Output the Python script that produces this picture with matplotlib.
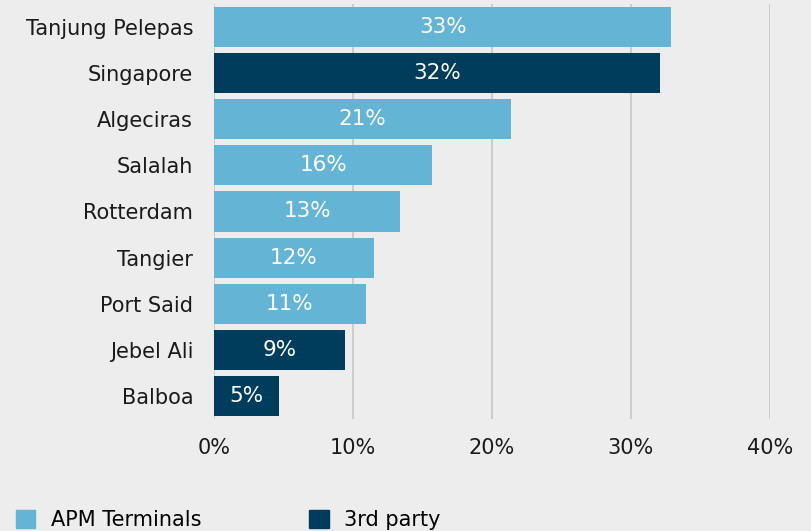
import matplotlib.pyplot as plt
from matplotlib.patches import Patch

ports = ["Tanjung Pelepas", "Singapore", "Algeciras", "Salalah", "Rotterdam",
         "Tangier", "Port Said", "Jebel Ali", "Balboa"]
share = [32.9, 32.1, 21.4, 15.7, 13.4, 11.5, 10.9, 9.4, 4.7]
labels = ["33%", "32%", "21%", "16%", "13%", "12%", "11%", "9%", "5%"]
owner = ["APM", "3rd", "APM", "APM", "APM", "APM", "APM", "3rd", "3rd"]

light = "#64b4d6"
dark = "#003d5c"
bg = "#ededed"

plt.rcParams['font.family'] = ['DejaVu Sans']

fig = plt.figure(figsize=(8.11, 5.31), dpi=100, facecolor=bg)
ax = fig.add_axes([0.2639, 0.2109, 0.6855, 0.7816], facecolor=bg)

colors = [light if o == "APM" else dark for o in owner]
ax.barh(range(len(ports)), share, height=0.87, color=colors, zorder=3)

for i, (v, lab) in enumerate(zip(share, labels)):
    ax.text(v / 2, i, lab, ha="center", va="center", color="white",
            fontsize=15.5, zorder=4)

ax.set_xlim(0, 40)
ax.set_ylim(len(ports) - 0.5, -0.5)
ax.set_xticks([0, 10, 20, 30, 40])
ax.set_xticklabels(["0%", "10%", "20%", "30%", "40%"])
ax.set_yticks(range(len(ports)))
ax.set_yticklabels(ports)
ax.tick_params(axis="both", length=0, labelsize=15, colors="#1a1a1a")
ax.tick_params(axis="x", pad=14)
ax.tick_params(axis="y", pad=15)
ax.grid(axis="x", color="#c6c6c6", linewidth=1.2, zorder=0)
for s in ax.spines.values():
    s.set_visible(False)

handles = [Patch(color=light, label="APM Terminals"),
           Patch(color=dark, label="3rd party")]
fig.legend(handles=handles, loc="lower left", bbox_to_anchor=(-0.004, -0.033),
           ncol=2, frameon=False, fontsize=15, handlelength=0.95,
           handleheight=0.95, columnspacing=5.15, handletextpad=0.75)

fig.savefig("out.png", dpi=100, facecolor=bg)
